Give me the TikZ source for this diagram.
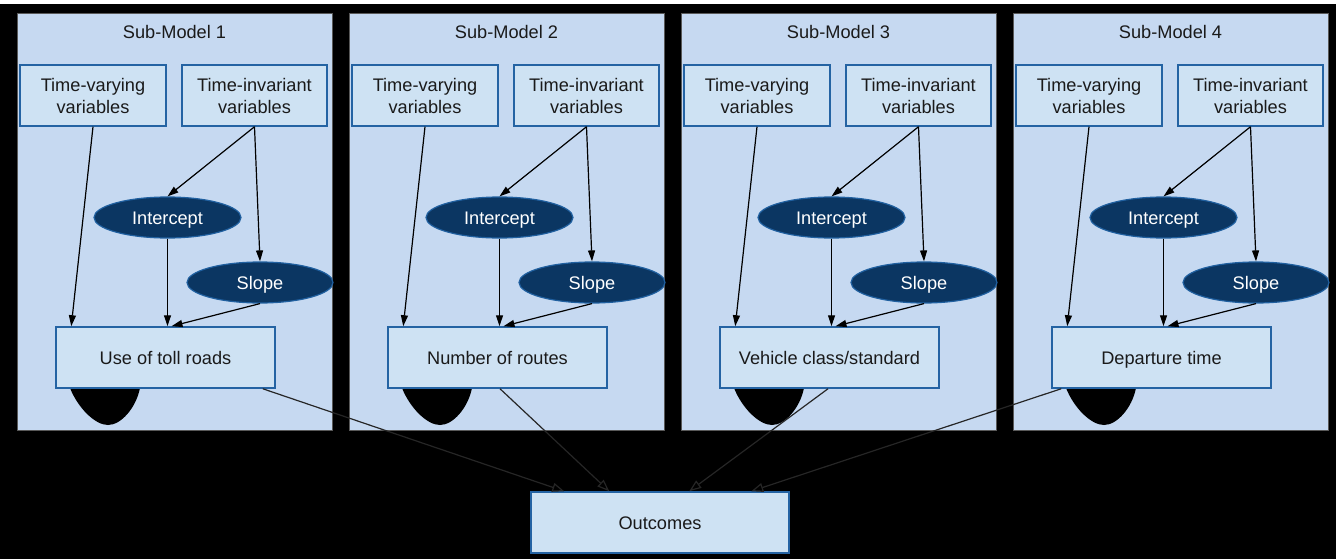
\documentclass[tikz,border=0pt]{standalone}
\usepackage{fontspec}
\setmainfont{Liberation Sans}
\usetikzlibrary{arrows.meta,calc,shapes.geometric}
\definecolor{panelfill}{RGB}{198,217,241}
\definecolor{boxfill}{RGB}{206,226,243}
\definecolor{boxline}{RGB}{36,99,163}
\definecolor{ellfill}{RGB}{11,54,98}
\definecolor{ellline}{RGB}{32,96,160}
\definecolor{txt}{RGB}{26,26,26}
\tikzset{
  panel/.style={draw=black!65, line width=0.6pt, fill=panelfill, rectangle, minimum width=315pt, minimum height=417pt, inner sep=0pt},
  title/.style={text=txt, font=\fontsize{18.2}{22}\selectfont, inner sep=0pt},
  box/.style={draw=boxline, line width=1.5pt, fill=boxfill, rectangle, minimum height=61pt, inner sep=0pt, align=center, text=txt, font=\fontsize{18.2}{22}\selectfont},
  sbox/.style={box, text height=13pt, text depth=0pt},
  ell/.style={draw=ellline, line width=1.2pt, fill=ellfill, ellipse, minimum height=41pt, inner sep=0pt, text=white, text height=13pt, text depth=0pt, font=\fontsize{18.2}{22}\selectfont},
  arr/.style={draw=black, line width=1.2pt, -{Triangle[length=11pt,width=7pt]}},
  oarr/.style={draw=black!85, line width=1.2pt, -{Triangle[open,length=12pt,width=9pt]}}
}
\newcommand\submodel[3]{%
\begin{scope}[shift={(#2,0)}]
\node[panel] (pan#1) at (174.5,221.5) {};
\node[title] (tit#1) at (174.5,32) {Sub-Model #1};
\fill[black] (70,388) .. controls (78,408) and (95,425) .. (108,425) .. controls (121,425) and (136,408) .. (140,388) -- cycle;
\node[box, minimum width=146pt] (tv#1) at (93,95.5) {Time-varying\\variables};
\node[box, minimum width=145pt] (ti#1) at (254.5,95.5) {Time-invariant\\variables};
\node[ell, minimum width=147pt] (ic#1) at (167.5,217.5) {Intercept};
\node[ell, minimum width=146pt] (sl#1) at (260,282.5) {Slope};
\node[sbox, minimum width=219pt] (out#1) at (165.5,357.5) {#3};
\draw[arr] (tv#1.south) -- ($(out#1.north west)+(16,0)$);
\draw[arr] (ti#1.south) -- (ic#1.north);
\draw[arr] (ti#1.south) -- (sl#1.north);
\draw[arr] (ic#1.south) -- (ic#1.south |- out#1.north);
\draw[arr] (sl#1.south) -- ($(out#1.north)+(6,0)$);
\end{scope}}
\begin{document}
\begin{tikzpicture}[x=1pt,y=-1pt]
\fill[black] (0,0) rectangle (1336,559);
\fill[white] (0,0) rectangle (1336,4.5);
\useasboundingbox (0,0) rectangle (1336,559);
\submodel{1}{0}{Use of toll roads}
\submodel{2}{332}{Number of routes}
\submodel{3}{664}{Vehicle class/standard}
\submodel{4}{996}{Departure time}
\node[sbox, minimum width=258pt] (outc) at (660,522.5) {Outcomes};
\draw[oarr] ($(out1.south east)+(-13,0)$) -- ($(outc.north west)+(34,0)$);
\draw[oarr] ($(out2.south)+(2.5,0)$) -- ($(outc.north west)+(79,0)$);
\draw[oarr] ($(out3.south)+(-1.5,0)$) -- ($(outc.north west)+(159,0)$);
\draw[oarr] ($(out4.south west)+(10,0)$) -- ($(outc.north west)+(221,0)$);
\end{tikzpicture}
\end{document}
